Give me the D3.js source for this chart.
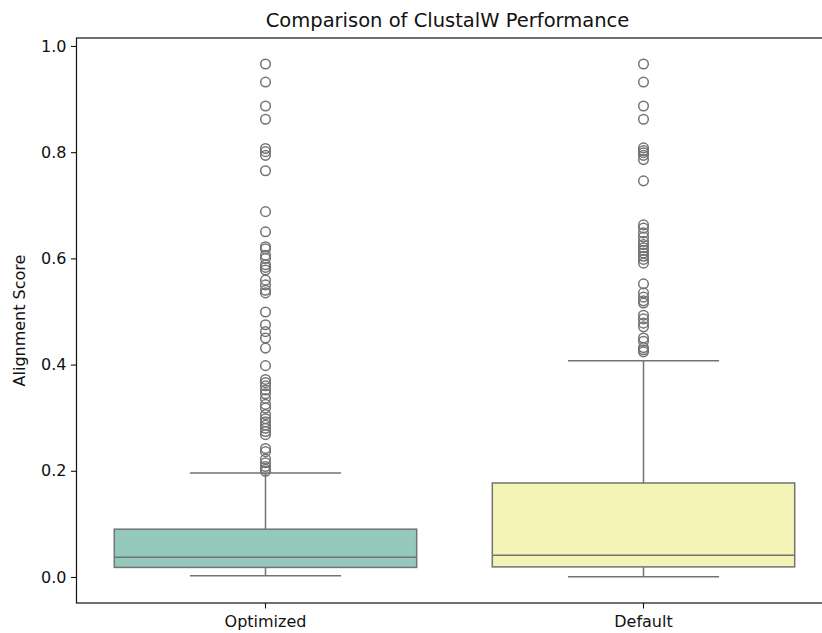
<!DOCTYPE html>
<html>
<head>
<meta charset="utf-8">
<script src="https://cdn.jsdelivr.net/npm/d3@7"></script>
<style>
  body { margin: 0; background: #fff; }
  text { font-family: "DejaVu Sans", sans-serif; }
</style>
</head>
<body>
<div id="plot"></div>
<script>
var width = 822;
var height = 633;
var marginleft = 76.5;
var marginright = -10.5;
var margintop = 38;
var marginbottom = 30;

var categories = ["Optimized", "Default"];
var colors = ["#94c9bc", "#f4f4b6"];
// box stats: whisker low, q1, median, q3, whisker high
var whiskLow = [0.0025, 0.0006];
var q1 = [0.018, 0.019];
var median = [0.037, 0.041];
var q3 = [0.090, 0.177];
var whiskHigh = [0.196, 0.407];
var outliersOptimized = [0.966, 0.932, 0.887, 0.862, 0.807, 0.801, 0.794, 0.765, 0.688, 0.650,
  0.622, 0.618, 0.606, 0.600, 0.588, 0.583, 0.578, 0.559, 0.550, 0.540, 0.535, 0.499, 0.475,
  0.462, 0.450, 0.431, 0.398, 0.372, 0.366, 0.360, 0.352, 0.345, 0.336, 0.325, 0.318, 0.306,
  0.298, 0.292, 0.286, 0.280, 0.274, 0.268, 0.242, 0.236, 0.222, 0.215, 0.208, 0.203, 0.199];
var outliersDefault = [0.966, 0.932, 0.887, 0.862, 0.808, 0.803, 0.799, 0.794, 0.786, 0.746,
  0.663, 0.657, 0.648, 0.640, 0.632, 0.626, 0.620, 0.615, 0.610, 0.604, 0.598, 0.591, 0.552,
  0.535, 0.527, 0.520, 0.516, 0.493, 0.486, 0.478, 0.471, 0.450, 0.444, 0.432, 0.428, 0.424];
var yTicks = [0.0, 0.2, 0.4, 0.6, 0.8, 1.0];

var lineColor = "#737373";

var svg = d3.select("#plot")
    .append("svg")
    .attr("width", width)
    .attr("height", height);

var x = d3.scaleBand()
    .domain(categories)
    .range([marginleft, width - marginright])
    .padding(0);

var y = d3.scaleLinear()
    .domain([-0.049, 1.015])
    .range([height - marginbottom, margintop]);

var boxes = categories.map(function (c, i) {
  return {
    cat: c, color: colors[i], lo: whiskLow[i], q1: q1[i], med: median[i], q3: q3[i], hi: whiskHigh[i],
    outliers: i === 0 ? outliersOptimized : outliersDefault
  };
});

var bw = x.bandwidth() * 0.8;

var g = svg.append("g");

var box = g.selectAll("g.box")
    .data(boxes)
    .enter()
    .append("g")
      .attr("class", "box")
      .attr("transform", function (d) { return "translate(" + (x(d.cat) + x.bandwidth() / 2) + ",0)"; });

// whiskers
box.append("line")
    .attr("x1", 0).attr("x2", 0)
    .attr("y1", function (d) { return y(d.q3); })
    .attr("y2", function (d) { return y(d.hi); })
    .attr("stroke", lineColor).attr("stroke-width", 1.5);
box.append("line")
    .attr("x1", 0).attr("x2", 0)
    .attr("y1", function (d) { return y(d.q1); })
    .attr("y2", function (d) { return y(d.lo); })
    .attr("stroke", lineColor).attr("stroke-width", 1.5);
box.selectAll("line.cap")
    .data(function (d) { return [d.lo, d.hi]; })
    .enter()
    .append("line")
      .attr("class", "cap")
      .attr("x1", -bw / 4).attr("x2", bw / 4)
      .attr("y1", function (v) { return y(v); })
      .attr("y2", function (v) { return y(v); })
      .attr("stroke", lineColor).attr("stroke-width", 1.5);

box.append("rect")
    .attr("x", -bw / 2)
    .attr("width", bw)
    .attr("y", function (d) { return y(d.q3); })
    .attr("height", function (d) { return y(d.q1) - y(d.q3); })
    .style("fill", function (d) { return d.color; })
    .attr("stroke", lineColor)
    .attr("stroke-width", 1.5);

box.append("line")
    .attr("x1", -bw / 2).attr("x2", bw / 2)
    .attr("y1", function (d) { return y(d.med); })
    .attr("y2", function (d) { return y(d.med); })
    .attr("stroke", lineColor).attr("stroke-width", 1.5);

box.selectAll("circle")
    .data(function (d) { return d.outliers; })
    .enter()
    .append("circle")
      .attr("cx", 0)
      .attr("cy", function (v) { return y(v); })
      .attr("r", 4.8)
      .style("fill", "none")
      .attr("stroke", lineColor)
      .attr("stroke-width", 1.5);

// axes
svg.append("g")
    .attr("transform", "translate(" + marginleft + ",0)")
    .call(d3.axisLeft(y).tickValues(yTicks).tickFormat(d3.format(".1f")).tickSizeOuter(0).tickSize(5.5).tickPadding(4.5));

svg.append("g")
    .attr("transform", "translate(0," + (height - marginbottom) + ")")
    .call(d3.axisBottom(x).tickSizeOuter(0).tickSize(5.5).tickPadding(7.5));

svg.selectAll(".tick text")
    .style("font-size", "16px")
    .attr("fill", "#111");
svg.selectAll(".tick line").attr("stroke", "#111").attr("stroke-width", 1.1);
svg.selectAll(".domain").remove();

// frame
svg.append("rect")
    .attr("x", marginleft)
    .attr("y", margintop)
    .attr("width", width - marginright - marginleft)
    .attr("height", height - marginbottom - margintop)
    .style("fill", "none")
    .attr("stroke", "#111")
    .attr("stroke-width", 1.2);

svg.append("text")
    .attr("x", (marginleft + width - marginright) / 2 - 7)
    .attr("y", 27)
    .attr("text-anchor", "middle")
    .style("font-size", "19.5px")
    .attr("fill", "#111")
    .text("Comparison of ClustalW Performance");

svg.append("text")
    .attr("transform", "translate(25," + ((margintop + height - marginbottom) / 2) + ") rotate(-90)")
    .attr("text-anchor", "middle")
    .style("font-size", "16px")
    .attr("fill", "#111")
    .text("Alignment Score");
</script>
</body>
</html>
